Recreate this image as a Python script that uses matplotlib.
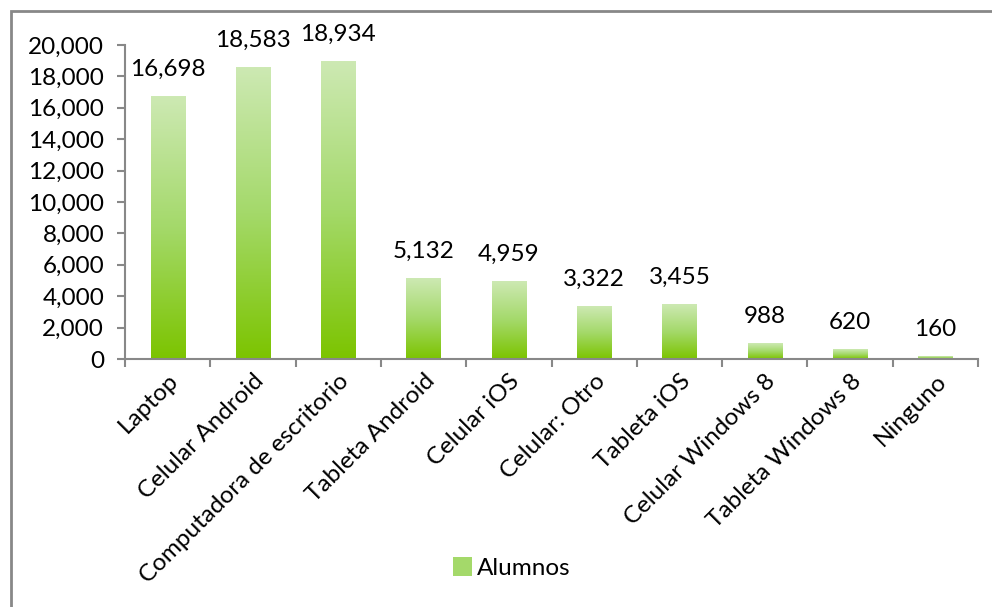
import matplotlib.pyplot as plt
import numpy as np
from matplotlib.colors import LinearSegmentedColormap
from matplotlib.patches import Rectangle

categorias = ["Laptop", "Celular Android", "Computadora de escritorio", "Tableta Android",
              "Celular iOS", "Celular: Otro", "Tableta iOS", "Celular Windows 8",
              "Tableta Windows 8", "Ninguno"]
alumnos = [16698, 18583, 18934, 5132, 4959, 3322, 3455, 988, 620, 160]
yticks = list(range(0, 20001, 2000))

plt.rcParams['font.family'] = ['Lato', 'DejaVu Sans']
fs = 17.5

fig = plt.figure(figsize=(9.92, 6.07), dpi=100)
ax = fig.add_axes([125/992, 1-359/607, (978-125)/992, (359-45)/607])

# gradient for the bars: light on top, green at the bottom
cmap = LinearSegmentedColormap.from_list("verde", ["#7cc400", "#a4d96a", "#cde9b3"])
grad = np.linspace(0, 1, 256).reshape(-1, 1)

x = np.arange(len(categorias))
bars = ax.bar(x, alumnos, width=0.4, color="none", edgecolor="none", label="Alumnos")
for b, v in zip(bars, alumnos):
    x0 = b.get_x()
    ax.imshow(grad, cmap=cmap, origin="lower", aspect="auto",
              extent=(x0, x0 + b.get_width(), 0, v), zorder=2)
    ax.annotate(f"{v:,}", (b.get_x() + b.get_width()/2, v), xytext=(0, 12),
                textcoords="offset points", ha="center", va="bottom", fontsize=fs)

ax.set_xlim(-0.5, len(categorias) - 0.5)
ax.set_ylim(0, 20000)
ax.set_yticks(yticks)
ax.set_yticklabels([f"{t:,}" for t in yticks], fontsize=fs)
ax.set_xticks(np.arange(len(categorias) + 1) - 0.5)
ax.set_xticklabels([])
ax.set_xticks(x, minor=True)
ax.set_xticklabels(categorias, minor=True, rotation=45, ha="right",
                   rotation_mode="anchor", fontsize=fs)
ax.tick_params(axis="x", which="minor", length=0, pad=8)
ax.tick_params(axis="x", which="major", length=6, color="#888888", width=1.5)
ax.tick_params(axis="y", length=6, color="#888888", width=1.5, pad=9)

for s in ["top", "right"]:
    ax.spines[s].set_visible(False)
for s in ["left", "bottom"]:
    ax.spines[s].set_color("#888888")
    ax.spines[s].set_linewidth(1.5)

# legend swatch
handle = Rectangle((0, 0), 1, 1, facecolor="#a4d96a", edgecolor="none")
fig.legend([handle], ["Alumnos"], loc="center", bbox_to_anchor=(512/992, 1-568/607),
           frameon=False, fontsize=fs, handlelength=0.8, handleheight=0.8,
           handletextpad=0.2)

# outer border
fig.patches.append(Rectangle((10.5/992, -0.5), 2, 1.5 - 10.5/607, transform=fig.transFigure,
                             fill=False, edgecolor="#888888", linewidth=2))

fig.savefig("out.png", dpi=100)
